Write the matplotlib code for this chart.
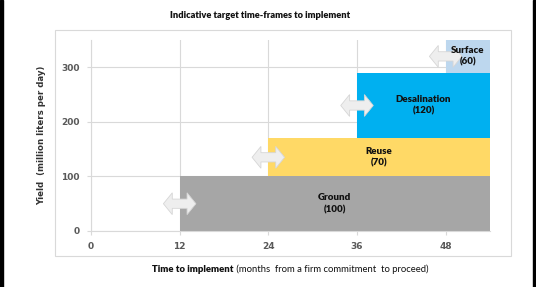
import matplotlib
matplotlib.use("Agg")
import matplotlib.pyplot as plt
from matplotlib.patches import Rectangle, Polygon

# data
sources = ["Ground", "Reuse", "Desalination", "Surface"]
yields = [100, 70, 120, 60]
start_months = [12, 24, 36, 48]
end_month = 54
colors = ["#a6a6a6", "#ffd966", "#00b0f0", "#bdd7ee"]
x_ticks = [0, 12, 24, 36, 48]
y_ticks = [0, 100, 200, 300]

narrow = ["Lato", "DejaVu Sans"]

fig = plt.figure(figsize=(5.36, 2.87), dpi=100)
W, H = 536, 287
ax = fig.add_axes([91 / W, 1 - 231 / H, (490 - 91) / W, (231 - 40) / H])

# chart frame and black side edges
fig.add_artist(Rectangle((55 / W, 1 - 256 / H), (511 - 55) / W, (256 - 30) / H,
                         transform=fig.transFigure, fill=False, ec="#d9d9d9", lw=0.8))
fig.add_artist(Rectangle((0, 0), 2.5 / W, 1, transform=fig.transFigure, color="black"))
fig.add_artist(Rectangle((532.5 / W, 0), 3.5 / W, 1, transform=fig.transFigure, color="black"))

bottom = 0
for name, val, start, col in zip(sources, yields, start_months, colors):
    ax.bar(start, val, width=end_month - start, bottom=bottom, align="edge",
           color=col, zorder=2)
    mid_y = bottom + val / 2
    ax.text((start + end_month) / 2, mid_y, f"{name}\n({val})", ha="center", va="center",
            fontsize=7, fontweight="heavy", family=narrow, color="#111111", zorder=4,
            linespacing=1.35)
    # double-headed block arrow at the start of each bar
    hl, hh, bh, hd = 2.2, 20, 8.5, 1.2
    pts = [(start - hl, mid_y), (start - hl + hd, mid_y + hh), (start - hl + hd, mid_y + bh),
           (start + hl - hd, mid_y + bh), (start + hl - hd, mid_y + hh), (start + hl, mid_y),
           (start + hl - hd, mid_y - hh), (start + hl - hd, mid_y - bh),
           (start - hl + hd, mid_y - bh), (start - hl + hd, mid_y - hh)]
    ax.add_patch(Polygon(pts, closed=True, fc="#eeeeee", ec="#d6d6d6", lw=0.6, zorder=3))
    bottom += val

ax.set_xlim(0, end_month)
ax.set_ylim(0, 350)
ax.set_xticks(x_ticks)
ax.set_yticks(y_ticks)
ax.grid(True, color="#d9d9d9", lw=0.8, zorder=0)
ax.set_axisbelow(True)
for s in ["top", "right"]:
    ax.spines[s].set_visible(False)
for s in ["left", "bottom"]:
    ax.spines[s].set_color("#d9d9d9")
    ax.spines[s].set_linewidth(0.8)
ax.tick_params(length=3, color="#d9d9d9", labelcolor="#595959", labelsize=6.5, pad=5)
for lab in ax.get_xticklabels() + ax.get_yticklabels():
    lab.set_fontweight("bold")

fig.text(260 / W, 1 - 16 / H, "Indicative target time-frames to implement", ha="center",
         va="center", fontsize=6.7, fontweight="heavy", family=narrow, color="#111111")
ax.set_ylabel("Yield  (million liters per day)", fontsize=6.2, fontweight="bold",
              color="#333333", labelpad=11)

# x label: bold lead-in followed by regular text, centred as a whole
t1 = fig.text(0, 1 - 269 / H, "Time to implement", ha="left", va="center",
              fontsize=6.8, fontweight="heavy", family=narrow, color="#111111")
t2 = fig.text(0, 1 - 269 / H, " (months  from a firm commitment  to proceed)", ha="left",
              va="center", fontsize=6.8, family=narrow, color="#111111")
fig.canvas.draw()
r = fig.canvas.get_renderer()
w1 = t1.get_window_extent(r).width
w2 = t2.get_window_extent(r).width
x0 = 290 - (w1 + w2) / 2
t1.set_x(x0 / W)
t2.set_x((x0 + w1) / W)

fig.savefig("out.png", dpi=100)
